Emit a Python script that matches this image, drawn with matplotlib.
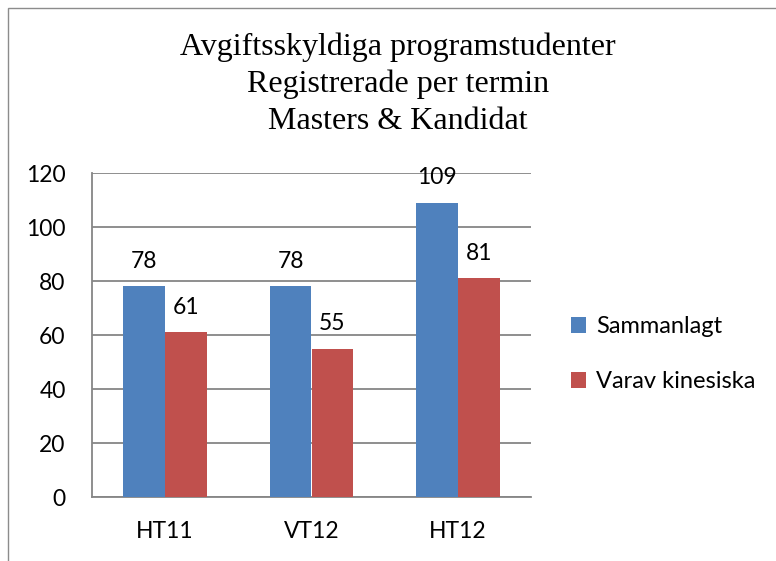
import matplotlib
matplotlib.use("Agg")
import matplotlib.pyplot as plt
from matplotlib.patches import Rectangle
import numpy as np

categories = ["HT11", "VT12", "HT12"]
series_names = ["Sammanlagt", "Varav kinesiska"]
sammanlagt = [78, 78, 109]
kinesiska = [61, 55, 81]
yticks = [0, 20, 40, 60, 80, 100, 120]
title_lines = ["Avgiftsskyldiga programstudenter", "Registrerade per termin", "Masters & Kandidat"]

BLUE = "#4F81BD"
RED = "#C0504D"
GRID = "#868686"
SANS = ["Lato", "DejaVu Sans"]
FS = 16.5

W, H = 776, 561
fig = plt.figure(figsize=(W / 100, H / 100), dpi=100)

# outer chart frame (left and top visible)
fig.patches.append(Rectangle((8 / W, -0.2), 1.5, 1.2 - 8 / H, transform=fig.transFigure,
                             fill=False, edgecolor="#8c8c8c", linewidth=1.0))

ax = fig.add_axes([92 / W, 1 - 497 / H, (531 - 92) / W, (497 - 173) / H])

x = np.arange(len(categories))
bw = 0.2857
b1 = ax.bar(x - bw / 2, sammanlagt, bw, color=BLUE, label=series_names[0], zorder=3)
b2 = ax.bar(x + bw / 2, kinesiska, bw, color=RED, label=series_names[1], zorder=3)

for bars, vals in ((b1, sammanlagt), (b2, kinesiska)):
    for rect, v in zip(bars, vals):
        ax.annotate(str(v), (rect.get_x() + rect.get_width() / 2, v),
                    xytext=(0, 13.5), textcoords="offset points",
                    ha="center", va="baseline", fontsize=FS, family=SANS, color="black")

ax.set_xlim(-0.5, len(categories) - 0.5)
ax.set_ylim(0, 120)
ax.set_yticks(yticks)
ax.set_xticks(x)
ax.set_xticklabels(categories)
ax.yaxis.grid(True, color=GRID, linewidth=1.3, zorder=0)
ax.set_axisbelow(True)
for s in ("top", "right"):
    ax.spines[s].set_visible(False)
for s in ("left", "bottom"):
    ax.spines[s].set_color(GRID)
    ax.spines[s].set_linewidth(1.3)
ax.tick_params(axis="both", length=0, labelsize=FS, colors="black")
ax.tick_params(axis="y", pad=19)
ax.tick_params(axis="x", pad=17)
for lab in ax.get_xticklabels() + ax.get_yticklabels():
    lab.set_family(SANS)

fig.text(398 / W, 1 - 32 / H, "\n".join(title_lines), ha="center", va="top",
         fontsize=23, family=["Liberation Serif"], linespacing=1.36)

leg = ax.legend(loc="upper left", bbox_to_anchor=(571 / W, 1 - 316 / H),
                bbox_transform=fig.transFigure, frameon=False,
                prop={"family": SANS, "size": 17},
                handlelength=0.65, handleheight=0.65, handletextpad=0.4,
                labelspacing=1.45, borderaxespad=0, borderpad=0)

fig.savefig("out.png", dpi=100)
